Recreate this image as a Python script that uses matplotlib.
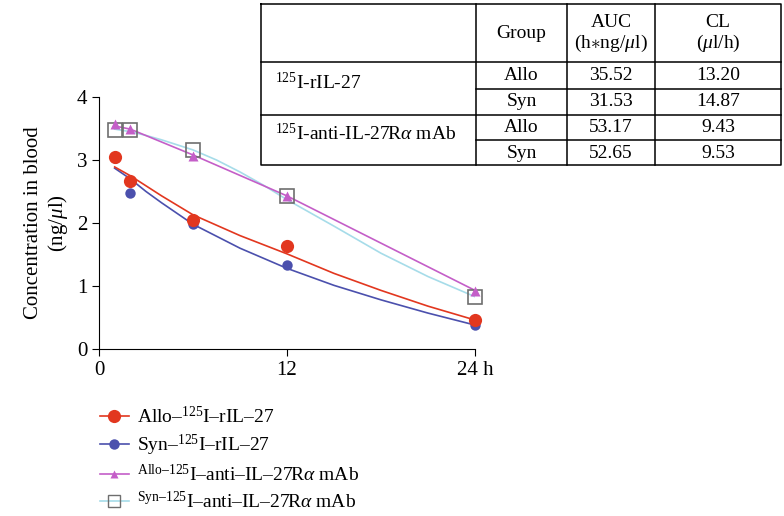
import numpy as np
import matplotlib
matplotlib.use("Agg")
import matplotlib.pyplot as plt
from matplotlib.lines import Line2D

plt.rcParams['font.family'] = ['Liberation Serif', 'DejaVu Serif']
plt.rcParams['mathtext.fontset'] = 'custom'
plt.rcParams['mathtext.rm'] = 'Liberation Serif'
plt.rcParams['mathtext.it'] = 'Liberation Serif:italic'

# sampled time points (h)
time_h = [1, 2, 6, 12, 24]
allo_ril27 = [3.05, 2.67, 2.05, 1.63, 0.46]
syn_ril27 = [3.03, 2.48, 1.98, 1.33, 0.38]
allo_mab = [3.57, 3.49, 3.06, 2.43, 0.92]
syn_mab = [3.47, 3.48, 3.16, 2.43, 0.82]

# fitted curves
fit_t = [1, 2, 3, 4, 6, 9, 12, 15, 18, 21, 24]
fit_allo_ril27 = [2.89, 2.75, 2.59, 2.43, 2.13, 1.80, 1.51, 1.20, 0.93, 0.68, 0.46]
fit_syn_ril27 = [2.87, 2.70, 2.50, 2.32, 1.98, 1.60, 1.28, 1.01, 0.78, 0.57, 0.38]
fit_t_mab = [1, 2, 6, 12, 24]
fit_allo_mab = [3.54, 3.49, 3.08, 2.43, 0.93]
fit_t_syn = [1, 2, 3, 4, 6, 7.5, 9, 10.5, 12, 15, 18, 21, 24]
fit_syn_mab = [3.49, 3.45, 3.39, 3.32, 3.16, 3.00, 2.81, 2.60, 2.37, 1.95, 1.52, 1.15, 0.83]

# table contents
table_header = ["Group", "AUC\n(h$\\ast$ng/$\\mu$l)", "CL\n($\\mu$l/h)"]
row_labels = ["$^{125}$I-rIL-27", "$^{125}$I-anti-IL-27R$\\alpha$ mAb"]
groups = ["Allo", "Syn", "Allo", "Syn"]
auc_vals = ["35.52", "31.53", "53.17", "52.65"]
cl_vals = ["13.20", "14.87", "9.43", "9.53"]

red = '#e2371f'
blue = '#4b50ad'
magenta = '#c45ec8'
cyan = '#a6dce9'

fig = plt.figure(figsize=(7.84, 5.16), dpi=100)
ax = fig.add_axes([99/784, 1-349/516, 376/784, 252/516])

ax.plot(fit_t, fit_syn_ril27, color=blue, lw=1.2)
ax.plot(fit_t, fit_allo_ril27, color=red, lw=1.2)
ax.plot(fit_t_syn, fit_syn_mab, color=cyan, lw=1.2)
ax.plot(fit_t_mab, fit_allo_mab, color=magenta, lw=1.2)

ax.plot(time_h, syn_ril27, 'o', color=blue, ms=7.5, mec='none', clip_on=False)
ax.plot(time_h, allo_ril27, 'o', color=red, ms=9.5, mec='none', clip_on=False)
ax.plot(time_h, syn_mab, 's', mfc='none', mec='#6e6e6e', ms=9.5, mew=1.2, clip_on=False)
ax.plot(time_h, allo_mab, '^', color=magenta, ms=6.5, mec='none', clip_on=False)

ax.set_xlim(0, 24)
ax.set_ylim(0, 4)
ax.set_xticks([0, 12, 24])
ax.set_xticklabels(["0", "12", "24 h"])
ax.set_yticks([0, 1, 2, 3, 4])
ax.spines['top'].set_visible(False)
ax.spines['right'].set_visible(False)
ax.tick_params(labelsize=15, direction='out', length=5)
ax.set_ylabel("Concentration in blood\n(ng/$\\mu$l)", fontsize=15, labelpad=5,
              linespacing=1.15)

handles = [
    Line2D([], [], color=red, lw=1.2, marker='o', ms=9.5, mec='none'),
    Line2D([], [], color=blue, lw=1.2, marker='o', ms=7.5, mec='none'),
    Line2D([], [], color=magenta, lw=1.2, marker='^', ms=5.5, mec='none'),
    Line2D([], [], color=cyan, lw=1.2, marker='s', ms=8, mfc='none', mec='#6e6e6e'),
]
labels = [
    "Allo\u2013$^{125}$I\u2013rIL\u201327",
    "Syn\u2013$^{125}$I\u2013rIL\u201327",
    "$^{\\mathrm{Allo\u2013125}}$I\u2013anti\u2013IL\u201327R$\\alpha$ mAb",
    "$^{\\mathrm{Syn\u2013125}}$I\u2013anti\u2013IL\u201327R$\\alpha$ mAb",
]
fig.legend(handles, labels, loc='upper left', bbox_to_anchor=(92/784, 1-398/516),
           frameon=False, fontsize=14, handlelength=1.5, labelspacing=0.3,
           handletextpad=0.4, borderaxespad=0)

# table drawn in pixel coordinates on an overlay
tx = fig.add_axes([0, 0, 1, 1], facecolor='none')
tx.set_xlim(0, 784)
tx.set_ylim(516, 0)
tx.axis('off')
lw = 1.1
x0, x1, x2, x3, x4 = 261, 476, 567, 655, 781
y0, y1, y2, y3, y4, y5 = 4, 62, 89, 115, 140, 165
tx.plot([x0, x4, x4, x0, x0], [y0, y0, y5, y5, y0], color='black', lw=lw)
for y in [y1, y3]:
    tx.plot([x0, x4], [y, y], color='black', lw=lw)
for y in [y2, y4]:
    tx.plot([x1, x4], [y, y], color='black', lw=lw)
for x in [x1, x2, x3]:
    tx.plot([x, x], [y0, y5], color='black', lw=lw)

fs = 14
col_c = [(x1 + x2) / 2, (x2 + x3) / 2, (x3 + x4) / 2]
for c, h in zip(col_c, table_header):
    tx.text(c, 34, h, ha='center', va='center', fontsize=fs, linespacing=1.15)
tx.text(275, 82, row_labels[0], ha='left', va='center', fontsize=fs)
tx.text(275, 133, row_labels[1], ha='left', va='center', fontsize=fs)
row_y = [76, 102, 127, 153]
for i in range(4):
    tx.text(col_c[0], row_y[i], groups[i], ha='center', va='center', fontsize=fs)
    tx.text(col_c[1], row_y[i], auc_vals[i], ha='center', va='center', fontsize=fs)
    tx.text(col_c[2], row_y[i], cl_vals[i], ha='center', va='center', fontsize=fs)

fig.savefig("out.png", dpi=100)
